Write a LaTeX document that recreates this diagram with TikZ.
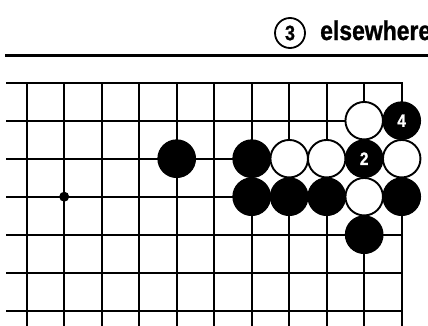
\documentclass[tikz,border=0pt]{standalone}
\usepackage{fontspec}
\setmainfont{Liberation Sans}
\newfontfamily\narrowsans[FakeStretch=0.85, FakeBold=1]{Liberation Sans}
\usetikzlibrary{positioning}

\tikzset{
  gridline/.style={line width=1.9pt, line cap=rect},
  blackstone/.style={circle, fill=black, draw=black, line width=1.2pt,
    minimum size=37.5pt, inner sep=0pt, text=white,
    font=\narrowsans\bfseries\fontsize{18}{18}\selectfont},
  whitestone/.style={circle, fill=white, draw=black, line width=1.9pt,
    minimum size=37.5pt, inner sep=0pt},
  hoshi/.style={circle, fill=black, minimum size=10pt, inner sep=0pt},
}

\begin{document}
\begin{tikzpicture}[x=1pt,y=1pt]
    \useasboundingbox (0,0) rectangle (428,325);
    % header
    \node[circle, draw, line width=1.8pt, minimum size=30pt, inner sep=0pt,
          font=\narrowsans\bfseries\fontsize{21}{21}\selectfont]
          (movethree) at (290,292) {3};
    \node[anchor=base west, inner sep=0pt,
          font=\narrowsans\bfseries\fontsize{27}{27}\selectfont]
          (elsewhere) at (320,285) {elsewhere};
    \coordinate (ruleleft) at (5,270);
    \coordinate (ruleright) at (428,270);
    \draw[line width=3pt] (ruleleft) -- (ruleright);
    % board
    \begin{scope}[shift={(26.7,242.3)}, x=37.5pt, y=-38pt]
        \foreach \r in {0,...,6}
            \draw[gridline] (-0.52,\r) -- (10,\r);
        \foreach \c in {0,...,10}
            \draw[gridline] (\c,0) -- (\c,6.6);
        \node[hoshi] (star) at (1,3) {};
        % stones
        \foreach \c/\r in {4/2, 6/2, 6/3, 7/3, 8/3, 10/3, 9/4}
            \node[blackstone] (b\c-\r) at (\c,\r) {};
        \foreach \c/\r in {9/1, 7/2, 8/2, 10/2, 9/3}
            \node[whitestone] (w\c-\r) at (\c,\r) {};
        \node[blackstone] (b9-2) at (9,2) {2};
        \node[blackstone] (b10-1) at (10,1) {4};
    \end{scope}
\end{tikzpicture}
\end{document}
